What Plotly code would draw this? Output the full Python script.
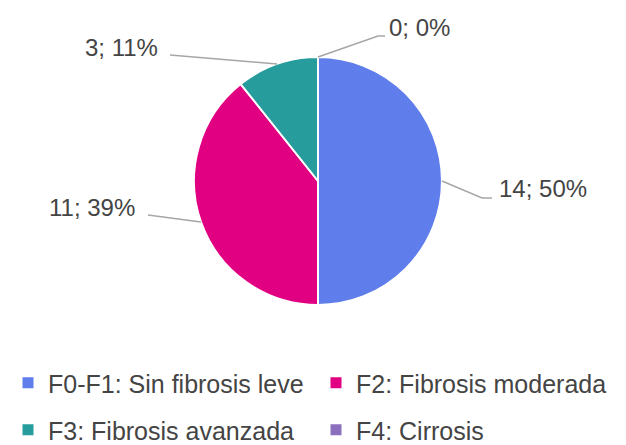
import math
import plotly.graph_objects as go

categories = ["F0-F1: Sin fibrosis leve", "F2: Fibrosis moderada",
              "F3: Fibrosis avanzada", "F4: Cirrosis"]
counts = [14, 11, 3, 0]
colors = ["#5F7DEB", "#E10082", "#269C9C", "#8C6EBE"]

W, H = 626, 445
OFF = 8  # page body margin
CX, CY, R = 318, 181, 124
TEXT = "#444444"
FONT = "Liberation Sans, Arial, sans-serif"

def px(x):
    return (x - OFF) / W

def py(y):
    return 1 - (y - OFF) / H

total = sum(counts)
pct = [round(100 * c / total) for c in counts]

fig = go.Figure()
fig.add_trace(go.Pie(
    labels=categories, values=counts, sort=False, direction="clockwise",
    rotation=0, textinfo="none", showlegend=False,
    marker=dict(colors=colors, line=dict(color="white", width=2)),
    domain=dict(x=[px(CX - R), px(CX + R)], y=[py(CY + R), py(CY - R)]),
))

# legend entries, two rows like the original
for i, (name, col) in enumerate(zip(categories, colors)):
    fig.add_trace(go.Scatter(
        x=[None], y=[None], mode="markers", name=name,
        marker=dict(symbol="square", size=11, color=col),
        legend="legend" if i < 2 else "legend2",
    ))

# label placement: (x, y, xanchor, extra leader points)
placement = [
    (497, 188, "left", [(482, 198), (492, 198)]),
    (137, 207, "right", [(148, 215)]),
    (160, 47, "right", [(170, 55)]),
    (387, 27, "left", [(378, 36), (385, 36)]),
]

cum = 0
for c, p, (lx, ly, anc, pts) in zip(counts, pct, placement):
    mid = (cum + c / 2) / total * 2 * math.pi
    cum += c
    ex, ey = CX + R * math.sin(mid), CY - R * math.cos(mid)
    path = f"M{px(ex)},{py(ey)}" + "".join(f" L{px(a)},{py(b)}" for a, b in pts)
    fig.add_shape(type="path", path=path, xref="paper", yref="paper",
                  line=dict(color="#A6A6A6", width=1.5))
    fig.add_annotation(x=px(lx), y=py(ly), xref="paper", yref="paper",
                       text=f"{c}; {p}%", showarrow=False, xanchor=anc,
                       yanchor="middle", font=dict(size=24, color=TEXT))

leg = dict(orientation="h", x=0, xanchor="left", yanchor="middle",
           entrywidth=263, entrywidthmode="pixels",
           font=dict(size=25, color=TEXT, family=FONT), bgcolor="rgba(0,0,0,0)")
fig.update_layout(
    width=W, height=H,
    margin=dict(l=0, r=0, t=0, b=0, autoexpand=False),
    paper_bgcolor="white", plot_bgcolor="white",
    font=dict(family=FONT, color=TEXT),
    xaxis=dict(visible=False), yaxis=dict(visible=False),
    legend=dict(leg, y=py(383)),
    legend2=dict(leg, y=py(430)),
)

fig.write_html("out.html")
